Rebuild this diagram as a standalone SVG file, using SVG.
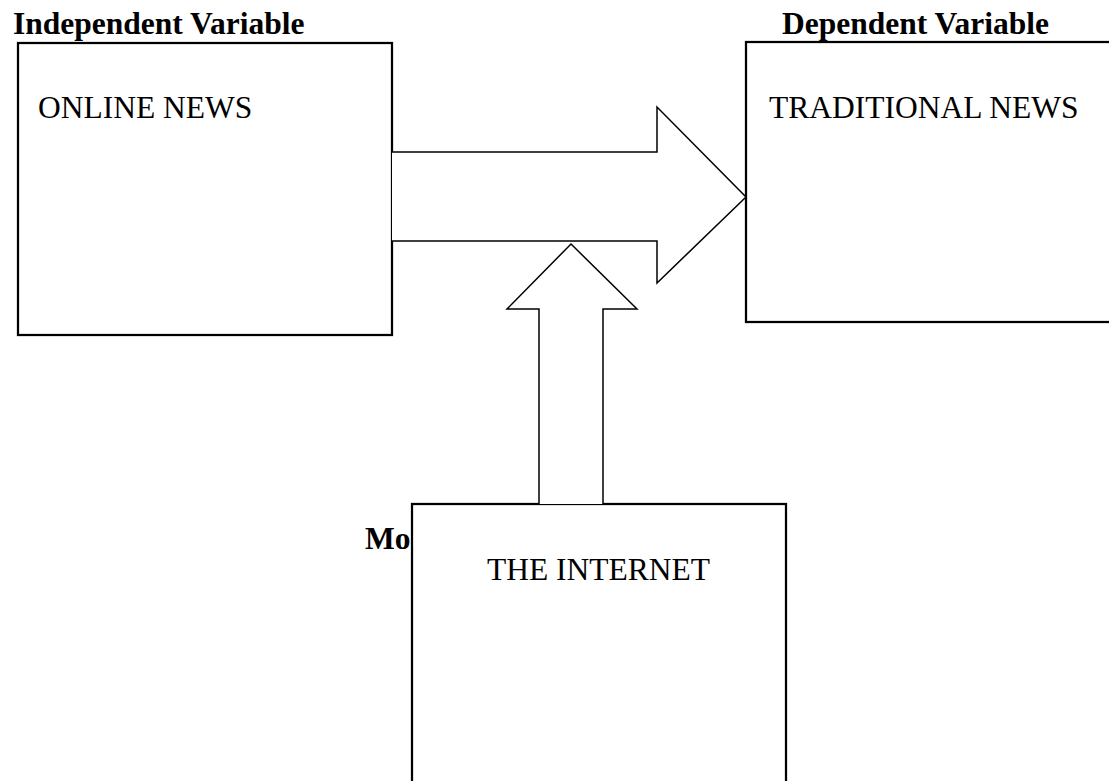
<svg xmlns="http://www.w3.org/2000/svg" width="1109" height="781" viewBox="0 0 1109 781">
<style>
.box{fill:#fff;stroke:#000;stroke-width:2.25}
.arrow{fill:#fff;stroke:#000;stroke-width:1.5;stroke-linejoin:miter}
.lbl{font-family:"Liberation Serif","Times New Roman",serif;font-size:31.5px;fill:#000}
.hdr{font-family:"Liberation Serif","Times New Roman",serif;font-size:31.5px;font-weight:bold;fill:#000}
</style>
<rect width="1109" height="781" fill="#fff"/>
<text class="hdr" x="13" y="34">Independent Variable</text>
<text class="hdr" x="782" y="34">Dependent Variable</text>
<text class="hdr" x="365" y="549">Mo</text>
<g id="online-news">
<rect class="box" x="18" y="43" width="374" height="292"/>
<text class="lbl" x="38" y="118">ONLINE NEWS</text>
</g>
<g id="traditional-news">
<rect class="box" x="746" y="42" width="400" height="280"/>
<text class="lbl" x="769" y="118">TRADITIONAL NEWS</text>
</g>
<g id="the-internet">
<rect class="box" x="412" y="504" width="374" height="320"/>
<text class="lbl" x="487" y="580">THE INTERNET</text>
</g>
<g id="connectors">
<path class="arrow" d="M392,152 L657,152 L657,107 L746,197 L657,283 L657,241 L392,241"/>
<path class="arrow" d="M539,504 L539,309 L507,309 L571,244 L637,309 L603,309 L603,504"/>
</g>
</svg>
